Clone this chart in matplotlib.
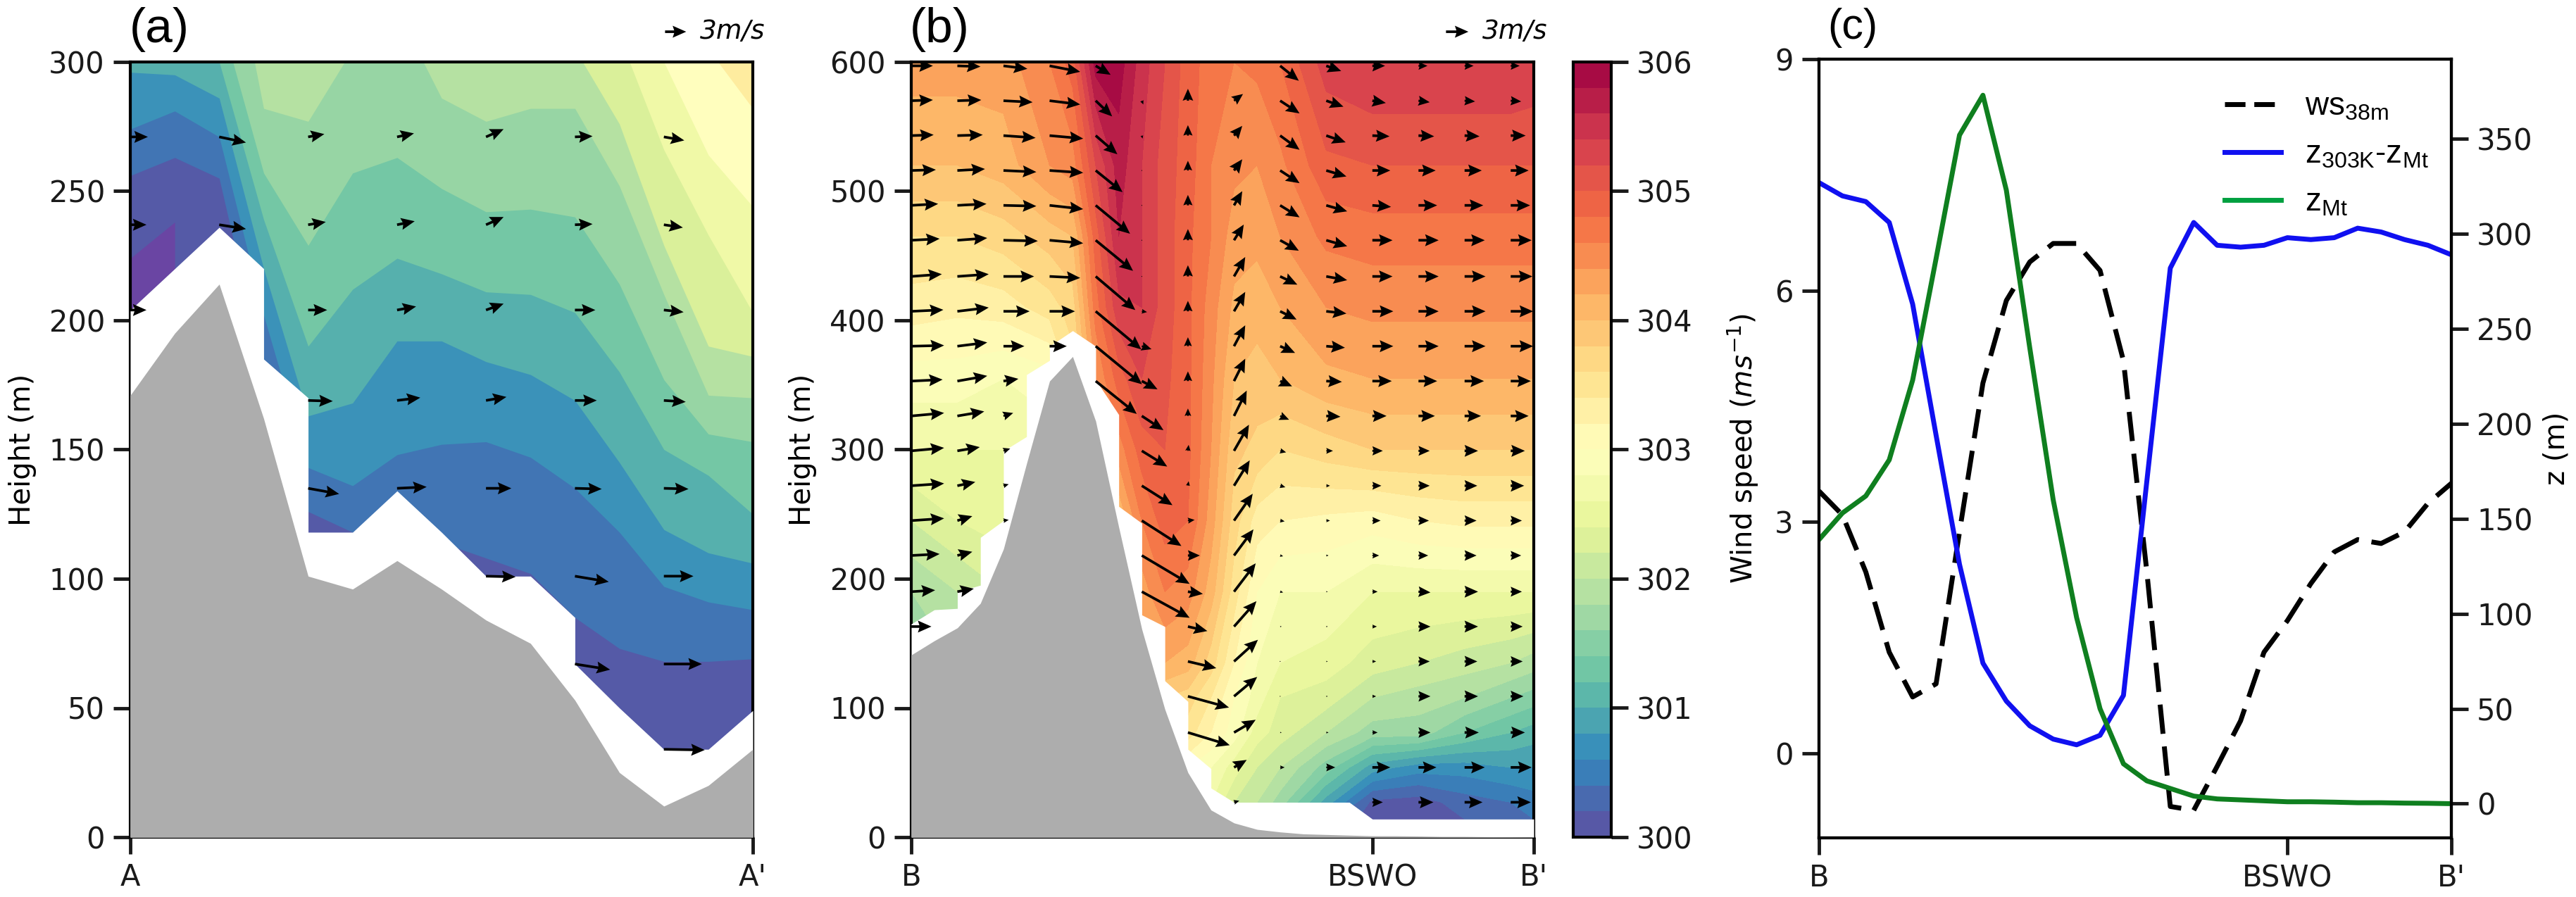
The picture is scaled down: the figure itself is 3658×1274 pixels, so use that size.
import numpy as np
import matplotlib
matplotlib.use("Agg")
import matplotlib.pyplot as plt

plt.rcParams['font.family'] = 'DejaVu Sans'
plt.rcParams['mathtext.default'] = 'regular'
plt.rcParams['axes.linewidth'] = 3
nan = np.nan

# -----------------------------
# PANEL A DATA
# -----------------------------
xa = np.arange(15)
terrain_a = [171, 195, 214, 162, 101, 96, 107, 96, 84, 75, 53, 25, 12, 20, 34]
edge_xa = [0, 1, 2, 3, 3, 4, 4, 5, 6, 7, 8, 9, 10, 10, 11, 12, 13, 14]
edge_za = [204, 220, 236, 220, 185, 170, 118, 118, 134, 118, 101, 101, 85, 67, 50, 34, 34, 49]

# height of every colour edge along the section, coldest first
iso_a = [
    [256, 263, 255, 180, 126, 118, 125, 114, 108, 102, 85, 73, 68, 68, 69],
    [274, 281, 271, 202, 143, 136, 148, 152, 153, 147, 135, 118, 97, 91, 88],
    [296, 295, 286, 220, 163, 168, 192, 192, 184, 179, 169, 145, 119, 110, 106],
    [310, 310, 300, 239, 190, 212, 224, 218, 211, 210, 203, 180, 150, 140, 125],
    [320, 320, 319, 257, 229, 257, 263, 251, 242, 243, 240, 214, 177, 156, 153],
    [400, 400, 369, 282, 277, 305, 320, 286, 277, 282, 282, 252, 210, 171, 170],
    [400, 400, 400, 400, 400, 400, 400, 400, 400, 350, 305, 276, 229, 190, 186],
    [400, 400, 400, 400, 400, 400, 400, 400, 400, 400, 350, 310, 266, 233, 203],
    [400, 400, 400, 400, 400, 400, 400, 400, 400, 400, 400, 340, 300, 264, 244],
    [400, 400, 400, 400, 400, 400, 400, 400, 400, 400, 400, 400, 350, 305, 282],
]
band_a = [0.02, 0.07, 0.12, 0.17, 0.22, 0.27, 0.32, 0.38, 0.44, 0.5, 0.56]

qx_a = [0, 2, 4, 6, 8, 10, 12]
qz_a = [271, 237, 204, 169, 135, 101, 67, 34]
u_a = np.array([
    [2.5, 3.8, 2.3, 2.4, 2.5, 2.5, 2.9],
    [2.3, 3.8, 2.5, 2.5, 2.5, 2.5, 2.7],
    [2.3, nan, 2.7, 2.7, 2.5, 2.9, 2.8],
    [nan, nan, 3.5, 3.3, 2.9, 3.1, 3.1],
    [nan, nan, 4.4, 4.2, 3.6, 3.8, 3.5],
    [nan, nan, nan, nan, 4.2, 4.8, 4.2],
    [nan, nan, nan, nan, nan, 5.0, 5.4],
    [nan, nan, nan, nan, nan, nan, 5.8],
])
v_a = np.array([
    [0.0, -0.8, 0.4, 0.5, 1.1, 0.1, -0.5],
    [0.0, -0.6, 0.4, 0.5, 1.1, 0.1, -0.4],
    [0.0, nan, 0.0, 0.5, 0.9, 0.0, -0.3],
    [nan, nan, -0.1, 0.4, 0.5, 0.0, -0.2],
    [nan, nan, -0.8, 0.2, 0.0, -0.1, -0.1],
    [nan, nan, nan, nan, -0.1, -0.8, 0.0],
    [nan, nan, nan, nan, nan, -0.8, 0.0],
    [nan, nan, nan, nan, nan, nan, -0.1],
])

# -----------------------------
# PANEL B DATA
# -----------------------------
xb = np.arange(28)
terrain_b = [141, 152, 162, 181, 223, 289, 353, 372, 322, 240, 161, 99, 50, 21, 11, 6, 4,
             2.5, 2, 1.5, 1, 1, 0.8, 0.5, 0.5, 0.3, 0.2, 0]
edge_xb = [0, 1, 2, 2, 3, 3, 4, 4, 5, 5, 6, 6, 7, 8, 8, 9, 9, 10, 10, 11, 11, 12, 12, 13, 13, 14, 19, 20, 27]
edge_zb = [165, 176, 177, 190, 195, 232, 245, 299, 310, 358, 369, 380, 392, 380, 354, 327, 256, 243,
           172, 163, 121, 105, 68, 53, 38, 27, 27, 14, 14]

tx_b = [0, 2, 4, 6, 7, 8, 9, 10, 11, 12, 13, 14, 15, 16, 18, 20, 22, 24, 26, 27]
tz_b = [14, 27, 54, 81, 108, 135, 190, 245, 300, 355, 410, 465, 520, 600]
temp_b = np.array([
    [301.0, 301.1, 301.3, 301.6, 301.8, 302.0, 302.2, 302.5, 302.7, 302.9, 302.6, 302.2, 302.0, 301.5, 300.4, 300.1, 300.05, 300.2, 300.3, 300.4],
    [301.1, 301.2, 301.4, 301.7, 301.9, 302.1, 302.3, 302.6, 302.8, 303.0, 302.6, 302.2, 302.0, 301.7, 300.9, 300.15, 300.1, 300.3, 300.4, 300.5],
    [301.2, 301.3, 301.5, 301.8, 302.0, 302.2, 302.5, 302.8, 302.9, 303.0, 302.8, 302.5, 302.2, 302.0, 301.5, 300.9, 300.7, 300.7, 300.8, 300.8],
    [301.3, 301.4, 301.6, 301.9, 302.1, 302.4, 302.8, 303.2, 303.3, 303.5, 303.2, 302.9, 302.5, 302.3, 302.0, 301.7, 301.7, 301.4, 301.2, 301.1],
    [301.4, 301.6, 301.8, 302.0, 302.3, 302.6, 303.2, 303.8, 303.8, 303.7, 303.4, 303.0, 302.7, 302.4, 302.3, 302.0, 301.9, 301.8, 301.6, 301.5],
    [301.5, 301.8, 302.0, 302.2, 302.5, 302.8, 303.4, 304.0, 304.2, 304.1, 303.7, 303.2, 302.8, 302.6, 302.5, 302.3, 302.2, 302.1, 302.0, 301.9],
    [301.8, 302.0, 302.2, 302.3, 302.6, 303.0, 303.5, 304.3, 304.6, 304.5, 304.1, 303.5, 303.0, 302.8, 302.8, 302.6, 302.6, 302.6, 302.6, 302.6],
    [302.2, 302.4, 302.5, 302.6, 303.0, 303.5, 304.0, 304.6, 304.9, 304.8, 304.3, 303.7, 303.3, 303.2, 303.15, 303.1, 303.2, 303.25, 303.25, 303.25],
    [302.6, 302.6, 302.6, 302.7, 303.3, 304.0, 304.5, 304.9, 305.0, 304.85, 304.4, 303.85, 303.75, 303.6, 303.7, 303.8, 303.8, 303.8, 303.8, 303.8],
    [302.9, 302.9, 302.8, 302.9, 303.5, 304.4, 304.9, 305.2, 305.05, 304.85, 304.45, 304.0, 303.9, 304.0, 304.15, 304.2, 304.2, 304.2, 304.2, 304.2],
    [303.3, 303.25, 303.3, 303.5, 303.7, 304.7, 305.35, 305.4, 305.1, 304.85, 304.5, 304.15, 304.1, 304.2, 304.4, 304.45, 304.45, 304.45, 304.45, 304.45],
    [303.6, 303.6, 303.7, 303.9, 304.0, 304.9, 305.6, 305.4, 305.1, 304.85, 304.6, 304.3, 304.25, 304.4, 304.65, 304.7, 304.7, 304.7, 304.7, 304.7],
    [304.0, 304.0, 304.1, 304.4, 304.5, 305.2, 305.7, 305.4, 305.1, 304.9, 304.6, 304.45, 304.4, 304.55, 304.95, 305.0, 305.0, 305.0, 305.0, 305.0],
    [304.3, 304.3, 304.3, 304.6, 304.9, 305.9, 305.9, 305.5, 305.2, 304.9, 304.7, 304.6, 304.65, 304.8, 305.3, 305.4, 305.4, 305.4, 305.4, 305.35],
])

qx_b = [0, 2, 4, 6, 8, 10, 12, 14, 16, 18, 20, 22, 24, 26]
qz_b = [597, 570, 543, 516, 489, 462, 434, 407, 380, 353, 326, 299, 272, 245, 218, 190, 163, 136, 109, 81, 54, 27]
# one line per column of arrows
u_b = np.array([
    [2.9, 2.9, 3.0, 3.3, 3.6, 3.8, 4.1, 4.3, 4.4, 4.2, 4.4, 4.4, 4.4, 4.4, 3.8, 3.2, 2.7, nan, nan, nan, nan, nan],
    [3.1, 3.2, 3.4, 3.7, 3.9, 4.0, 4.2, 4.2, 4.0, 4.0, 3.6, 3.0, 2.4, 2.0, 2.0, 2.2, nan, nan, nan, nan, nan, nan],
    [3.2, 3.9, 4.3, 4.4, 4.4, 4.6, 4.1, 3.5, 2.8, 2.0, 1.3, 0.9, 0.7, 0.7, nan, nan, nan, nan, nan, nan, nan, nan],
    [4.1, 4.1, 4.5, 4.5, 4.5, 4.5, 4.1, 3.4, 2.3, nan, nan, nan, nan, nan, nan, nan, nan, nan, nan, nan, nan, nan],
    [2.0, 2.2, 2.9, 3.6, 4.6, 5.0, 5.3, 6.1, 6.2, 5.5, nan, nan, nan, nan, nan, nan, nan, nan, nan, nan, nan, nan],
    [nan, 0.2, 0.1, 0.05, 0.05, 0.05, 0.05, 0.7, 1.3, 2.1, 2.9, 3.4, 4.1, 5.3, 6.4, 6.4, nan, nan, nan, nan, nan, nan],
    [nan, 0.0, 0.0, 0.0, 0.0, 0.0, 0.0, 0.0, 0.0, 0.0, 0.0, 0.1, 0.1, 0.9, 1.6, 2.0, 2.6, 3.8, 5.5, 5.6, nan, nan],
    [nan, 1.2, 1.1, 1.1, 1.1, 1.3, 1.5, 1.5, 1.5, 1.5, 1.7, 2.0, 2.1, 2.5, 2.6, 2.9, 3.0, 3.2, 3.1, 2.9, 1.7, 0.7],
    [2.5, 2.6, 2.6, 2.6, 2.6, 2.5, 2.3, 2.2, 2.0, 1.6, 1.2, 0.8, 0.7, 0.6, 0.4, 0.4, 0.2, 0.1, 0.05, 0.2, 0.6, nan],
    [2.0, 2.3, 2.6, 2.7, 2.8, 2.8, 2.8, 2.7, 2.5, 2.1, 1.9, 0.9, 0.5, 0.5, 0.3, 0.2, 0.2, 0.2, 0.2, 0.3, 1.2, nan],
    [1.7, 1.8, 2.3, 2.4, 2.5, 2.7, 2.7, 2.8, 2.8, 2.6, 1.9, 1.4, 1.2, 1.1, 0.9, 0.7, 0.6, 0.5, 0.5, 0.7, 2.4, 1.4],
    [1.2, 1.5, 2.1, 2.3, 2.5, 2.7, 2.7, 2.7, 2.7, 2.5, 2.2, 1.5, 1.5, 1.4, 1.3, 1.6, 1.6, 1.5, 1.6, 1.6, 2.4, 2.0],
    [1.2, 1.4, 2.0, 2.3, 2.5, 2.7, 2.8, 2.8, 2.8, 2.6, 2.2, 1.8, 1.7, 1.6, 1.6, 1.8, 1.8, 1.7, 1.8, 1.9, 2.7, 2.4],
    [1.2, 1.4, 2.0, 2.4, 2.6, 2.8, 2.9, 3.0, 3.0, 2.7, 2.4, 1.9, 1.8, 1.5, 1.4, 1.5, 1.6, 1.6, 1.7, 1.9, 2.8, 2.7],
])
v_b = np.array([
    [0.0, 0.1, 0.1, 0.1, 0.2, 0.2, 0.3, 0.2, 0.1, 0.2, 0.4, 0.4, 0.3, 0.3, 0.2, 0.2, 0.0, nan, nan, nan, nan, nan],
    [-0.1, 0.1, 0.1, 0.2, 0.2, 0.3, 0.3, 0.5, 0.5, 0.7, 0.6, 0.5, 0.5, 0.6, 0.5, 0.4, nan, nan, nan, nan, nan, nan],
    [-0.4, -0.2, -0.3, -0.2, -0.1, -0.1, 0.0, 0.0, 0.0, 0.3, 0.4, 0.3, 0.2, 0.1, nan, nan, nan, nan, nan, nan, nan, nan],
    [-0.8, -0.5, -0.4, -0.3, -0.5, -0.4, -0.2, 0.0, 0.0, nan, nan, nan, nan, nan, nan, nan, nan, nan, nan, nan, nan, nan],
    [-1.2, -2.1, -2.5, -2.9, -3.8, -4.1, -4.5, -5.1, -5.1, -4.4, nan, nan, nan, nan, nan, nan, nan, nan, nan, nan, nan, nan],
    [nan, -0.5, -0.4, 0.1, 0.1, 0.1, 0.0, -0.1, -0.4, -1.1, -1.9, -2.1, -2.6, -3.4, -3.8, -3.5, nan, nan, nan, nan, nan, nan],
    [nan, 1.6, 1.4, 1.3, 1.4, 1.5, 1.5, 1.4, 1.2, 1.3, 1.0, 0.8, 0.6, 0.1, 0.0, -0.3, -0.6, -0.9, -1.5, -1.7, nan, nan],
    [nan, 0.9, 1.3, 1.5, 1.9, 2.1, 2.6, 2.6, 2.8, 3.0, 3.4, 3.5, 3.4, 3.6, 3.5, 3.8, 3.4, 2.9, 2.6, 1.7, 1.0, 0.2],
    [-2.0, -1.7, -1.9, -1.7, -1.6, -1.4, -1.1, -1.1, -0.9, -0.7, -0.5, -0.2, -0.2, -0.1, -0.1, -0.1, 0.0, 0.0, 0.0, 0.0, 0.0, nan],
    [-0.7, -0.8, -0.9, -0.8, -0.8, -0.8, -0.5, -0.3, -0.2, -0.1, -0.1, 0.0, 0.0, 0.0, 0.0, 0.0, 0.0, 0.0, 0.0, 0.0, 0.0, nan],
    [0.0, -0.3, -0.1, 0.0, -0.2, 0.0, 0.0, 0.0, 0.0, 0.0, 0.0, 0.0, 0.0, 0.0, 0.0, 0.0, 0.0, 0.0, 0.0, 0.0, 0.0, 0.0],
    [0.0, -0.2, -0.1, 0.0, 0.0, 0.0, 0.0, 0.0, 0.0, 0.0, 0.0, 0.0, 0.0, 0.0, 0.0, -0.1, 0.0, 0.0, 0.0, 0.0, 0.0, 0.0],
    [0.0, -0.1, -0.1, 0.0, 0.0, 0.0, 0.0, 0.0, 0.0, 0.0, 0.0, 0.0, 0.0, 0.0, 0.0, 0.0, 0.0, 0.0, 0.0, 0.0, 0.0, 0.0],
    [0.0, -0.1, 0.0, 0.0, 0.0, 0.0, 0.0, 0.0, 0.0, 0.0, 0.0, 0.0, 0.0, 0.0, 0.0, 0.0, 0.0, 0.0, 0.0, 0.0, 0.0, 0.0],
])
temp_levels = np.arange(300, 306.01, 0.2)

# -----------------------------
# PANEL C DATA
# -----------------------------
ws_38m = [3.40, 3.09, 2.35, 1.31, 0.73, 0.90, 2.87, 4.80, 5.87, 6.37, 6.61, 6.61, 6.26, 5.09,
          2.35, -0.69, -0.74, -0.17, 0.42, 1.31, 1.72, 2.20, 2.61, 2.77, 2.72, 2.87, 3.24, 3.50]
z_303k = [327, 320, 317, 306, 263, 194, 126, 74, 54, 41, 34, 31, 36, 57, 170, 282, 306, 294,
          293, 294, 298, 297, 298, 303, 301, 297, 294, 289]
z_mt = [139, 153, 162, 181, 223, 287, 352, 373, 323, 240, 160, 98, 50, 21, 12, 8, 4, 2.5,
        2, 1.5, 1, 1, 0.8, 0.5, 0.5, 0.3, 0.2, 0]


def px_axes(fig, left, right, top, bottom):
    w, h = fig.get_size_inches() * fig.dpi
    return fig.add_axes([left / w, 1 - bottom / h, (right - left) / w, (bottom - top) / h])


def style_ticks(ax):
    ax.tick_params(axis='both', labelsize=30, length=17, width=3.5, pad=9, colors='#1a1a1a')


fig = plt.figure(figsize=(36.58, 12.74), dpi=100)
cmap = plt.get_cmap('Spectral_r')
arrow_kw = dict(angles='uv', scale_units='inches', width=0.037, units='inches', headwidth=4.6,
                headlength=5.2, headaxislength=4.6, minlength=0.35, color='black', zorder=5, pivot='tail')

# -----------------------------
# PANEL A
# -----------------------------
ax1 = px_axes(fig, 185, 1069, 88, 1189)
ax1.fill_between(xa, 0, 400, color=cmap(band_a[0]), lw=0)
for iso, c in zip(iso_a, band_a[1:]):
    ax1.fill_between(xa, iso, 400, color=cmap(c), lw=0)
ax1.fill_between(xa[:2], [204, 220], [224, 238], color='#6a45a3', lw=0)
ax1.fill_between(edge_xa, 0, edge_za, color='white', lw=0, zorder=3)
ax1.fill_between(xa, 0, terrain_a, color='#adadad', lw=0, zorder=4)
qa = ax1.quiver(*np.meshgrid(qx_a, qz_a), np.ma.masked_invalid(u_a), np.ma.masked_invalid(v_a),
                scale=10, **arrow_kw)
ax1.quiverkey(qa, 0.893, 1.039, 3, '3m/s', labelpos='E', coordinates='axes', labelsep=0.2,
              fontproperties={'style': 'italic', 'size': 27})
ax1.set_xlim(0, 14)
ax1.set_ylim(0, 300)
ax1.set_xticks([0, 14])
ax1.set_xticklabels(['A', "A'"])
ax1.set_yticks([0, 50, 100, 150, 200, 250, 300])
ax1.set_ylabel('Height (m)', fontsize=29)
ax1.yaxis.set_label_coords(-0.15, 0.5)
style_ticks(ax1)

# -----------------------------
# PANEL B
# -----------------------------
ax2 = px_axes(fig, 1294, 2178, 88, 1189)
cf = ax2.contourf(tx_b, tz_b, temp_b, levels=temp_levels, cmap='Spectral_r')
ax2.fill_between(edge_xb, 0, edge_zb, color='white', lw=0, zorder=3)
ax2.fill_between(xb, 0, terrain_b, color='#adadad', lw=0, zorder=4)
qb = ax2.quiver(*np.meshgrid(qx_b, qz_b), np.ma.masked_invalid(u_b.T), np.ma.masked_invalid(v_b.T),
                scale=9.43, **arrow_kw)
ax2.quiverkey(qb, 0.895, 1.039, 3, '3m/s', labelpos='E', coordinates='axes', labelsep=0.2,
              fontproperties={'style': 'italic', 'size': 27})
ax2.set_xlim(0, 27)
ax2.set_ylim(0, 600)
ax2.set_xticks([0, 20, 27])
ax2.set_xticklabels(['B', 'BSWO', "B'"])
ax2.set_yticks([0, 100, 200, 300, 400, 500, 600])
ax2.set_ylabel('Height (m)', fontsize=29)
ax2.yaxis.set_label_coords(-0.152, 0.5)
style_ticks(ax2)

cax = px_axes(fig, 2234, 2288, 88, 1189)
cb = fig.colorbar(cf, cax=cax, ticks=[300, 301, 302, 303, 304, 305, 306])
cb.ax.tick_params(labelsize=30, length=17, width=3.5, pad=9, colors='#1a1a1a')
cb.outline.set_linewidth(3)

# -----------------------------
# PANEL C
# -----------------------------
ax3 = px_axes(fig, 2583, 3481, 84, 1190)
ax3.plot(xb, ws_38m, color='black', lw=5, dashes=(6, 2.6))
ax3.set_xlim(0, 27)
ax3.set_ylim(-1.097, 9)
ax3.set_yticks([0, 3, 6, 9])
ax3.set_xticks([0, 20, 27])
ax3.set_xticklabels(['B', 'BSWO', "B'"])
ax3.set_ylabel(r'Wind speed ($\mathit{ms}^{-1}$)', fontsize=29)
ax3.yaxis.set_label_coords(-0.092, 0.5)
style_ticks(ax3)

ax4 = ax3.twinx()
ax4.plot(xb, z_303k, color='#1010f0', lw=5)
ax4.plot(xb, z_mt, color='#0f7f1f', lw=5)
ax4.set_ylim(-18, 392)
ax4.set_yticks([0, 50, 100, 150, 200, 250, 300, 350])
ax4.set_ylabel('z (m)', fontsize=29)
ax4.yaxis.set_label_coords(1.144, 0.5)
style_ticks(ax4)

lab_font = {'family': 'Liberation Sans', 'size': 33}
ax3.plot([], [], color='black', lw=5, dashes=(4.2, 1.8), label=r'ws$_{38m}$')
ax3.plot([], [], color='#1010f0', lw=5, label=r'z$_{303K}$-z$_{Mt}$')
ax3.plot([], [], color='#00a040', lw=5, label=r'z$_{Mt}$')
ax3.legend(loc='upper right', bbox_to_anchor=(0.985, 0.975), frameon=False, prop=lab_font,
           handlelength=1.75, labelspacing=0.52, handletextpad=0.75, borderaxespad=0)

# panel letters
fig.text(184 / 3658, 1 - 42 / 1274, '(a)', fontsize=50, family='Liberation Sans', va='center')
fig.text(1292 / 3658, 1 - 42 / 1274, '(b)', fontsize=50, family='Liberation Sans', va='center')
fig.text(2595 / 3658, 1 - 40 / 1274, '(c)', fontsize=44, family='Liberation Sans', va='center')

fig.savefig('out.png', dpi=100)
